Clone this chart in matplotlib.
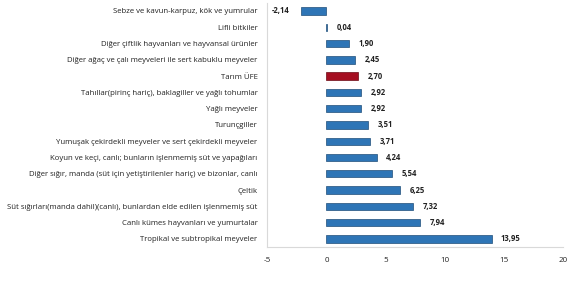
import matplotlib
matplotlib.use("Agg")
import matplotlib.pyplot as plt

categories = [
    "Sebze ve kavun-karpuz, kök ve yumrular",
    "Lifli bitkiler",
    "Diğer çiftlik hayvanları ve hayvansal ürünler",
    "Diğer ağaç ve çalı meyveleri ile sert kabuklu meyveler",
    "Tarım ÜFE",
    "Tahıllar(pirinç hariç), baklagiller ve yağlı tohumlar",
    "Yağlı meyveler",
    "Turunçgiller",
    "Yumuşak çekirdekli meyveler ve sert çekirdekli meyveler",
    "Koyun ve keçi, canlı; bunların işlenmemiş süt ve yapağıları",
    "Diğer sığır, manda (süt için yetiştirilenler hariç) ve bizonlar, canlı",
    "Çeltik",
    "Süt sığırları(manda dahil)(canlı), bunlardan elde edilen işlenmemiş süt",
    "Canlı kümes hayvanları ve yumurtalar",
    "Tropikal ve subtropikal meyveler",
]
values = [-2.14, 0.04, 1.90, 2.45, 2.70, 2.92, 2.92, 3.51, 3.71, 4.24, 5.54, 6.25, 7.32, 7.94, 13.95]
highlight = "Tarım ÜFE"
xticks = [-5, 0, 5, 10, 15, 20]

plt.rcParams['font.family'] = ['Open Sans', 'DejaVu Sans']

fig = plt.figure(figsize=(5.7, 2.85), dpi=100)
ax = fig.add_axes([0.469, 0.133, 0.519, 0.857])

blue = "#2E75B6"
red = "#A50F21"
colors = [red if c == highlight else blue for c in categories]
edges = ["#6B0A14" if c == highlight else "#1F4E79" for c in categories]
ypos = list(range(len(categories)))
ax.barh(ypos, values, height=0.45, color=colors, edgecolor=edges, linewidth=0.5)

for y, v in zip(ypos, values):
    txt = f"{v:.2f}".replace(".", ",")
    if v < 0:
        ax.text(v - 1.0, y, txt, ha="right", va="center", fontsize=5.5, fontweight="bold", color="#222222")
    else:
        ax.text(v + 0.8, y, txt, ha="left", va="center", fontsize=5.5, fontweight="bold", color="#222222")

ax.set_yticks(ypos)
ax.set_yticklabels(categories, fontsize=5.6, color="#222222")
ax.set_ylim(len(categories) - 0.5, -0.5)
ax.set_xlim(-5, 20)
ax.set_xticks(xticks)
ax.set_xticklabels([str(t) for t in xticks], fontsize=5.8, color="#222222")
ax.tick_params(axis="both", length=0)
ax.tick_params(axis="y", pad=7)
ax.tick_params(axis="x", pad=7)
for s in ["top", "right"]:
    ax.spines[s].set_visible(False)
for s in ["left", "bottom"]:
    ax.spines[s].set_color("#D9D9D9")
    ax.spines[s].set_linewidth(0.8)

fig.savefig("out.png", dpi=100, facecolor="white")
